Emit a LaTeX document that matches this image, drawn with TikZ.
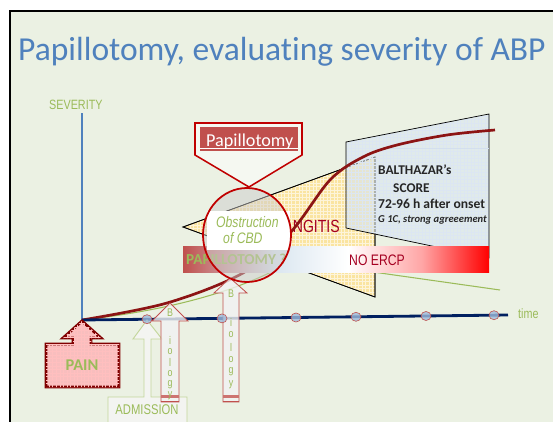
\documentclass[tikz,border=0pt]{standalone}
\usepackage{fontspec}
\setmainfont{Carlito}[Ligatures=NoCommon]
\newfontfamily\narrowfont[FakeStretch=0.8]{Liberation Sans}
\usepackage{xcolor}
\definecolor{slidebg}{RGB}{235,241,227}
\definecolor{titleblue}{RGB}{79,129,189}
\definecolor{leafgreen}{RGB}{155,187,89}
\definecolor{palegreen}{RGB}{195,214,155}
\definecolor{navy}{RGB}{0,32,96}
\definecolor{darkred}{RGB}{128,0,0}
\definecolor{curvered}{RGB}{140,20,20}
\definecolor{brickred}{RGB}{192,80,77}
\definecolor{deepred}{RGB}{192,0,0}
\definecolor{wine}{RGB}{165,0,33}
\definecolor{sand}{RGB}{250,228,160}
\definecolor{icyblue}{RGB}{218,230,240}
\definecolor{inkgray}{RGB}{38,38,38}
\definecolor{pinkfill}{RGB}{248,190,190}
\usepackage{tikz}
\usetikzlibrary{arrows.meta,positioning,calc,patterns}
\pgfdeclarehorizontalshading{bannershade}{100bp}{color(0bp)=(brickred); color(25bp)=(brickred); color(40bp)=(icyblue); color(52bp)=(white); color(64bp)=(red!35); color(75bp)=(red); color(100bp)=(red)}

\begin{document}
\begin{tikzpicture}[x=0.03cm, y=-0.03cm,
  axisdot/.style={draw=brickred, fill=titleblue!55, fill opacity=0.8, line width=0.5pt},
  bioarrow/.style={draw=brickred, line width=0.7pt, fill=gray!10, fill opacity=0.8},
  bioletter/.style={font=\narrowfont\fontsize{9.5}{9.5}\selectfont, text=leafgreen, inner sep=0pt},
  panelbold/.style={anchor=base west, inner sep=0pt, text=inkgray, font=\bfseries\fontsize{11.4}{12}\selectfont}]
  \useasboundingbox (0,0) rectangle (553,422);

  % Slide background
  \fill[white] (0,0) rectangle (553,422);
  \fill[slidebg] (10,11) rectangle (553,422);
  \draw[black, line width=2.5pt] (10,422) -- (10,11) -- (553,11);

  % Title
  \node[anchor=base west, inner sep=0pt, font=\fontsize{28.6}{30}\selectfont, text=titleblue] (title) at (18,61) {Papillotomy, evaluating severity of ABP};

  % Axes
  \coordinate (origin) at (82,320);
  \coordinate (sevtop) at (82,113);
  \coordinate (timeend) at (508,315);
  \node[anchor=base west, inner sep=0pt, font=\narrowfont\fontsize{11.5}{12}\selectfont, text=leafgreen] (sev) at (49,110) {SEVERITY};
  \draw[titleblue, line width=1.6pt] (origin) -- (sevtop);

  % Cholangitis wedge
  \coordinate (apex) at (183,227);
  \coordinate (wedgetop) at (375,157);
  \coordinate (wedgebot) at (375,297);
  \draw[black, line width=0.6pt, preaction={fill=sand}, pattern=grid, pattern color=white!60!sand] (apex) -- (wedgetop) -- (wedgebot) -- cycle;
  \draw[black, line width=0.6pt] (apex) -- (wedgetop) -- (wedgebot) -- cycle;

  % Balthazar panel
  \coordinate (ptl) at (346,142);
  \coordinate (ptr) at (489,114);
  \coordinate (pbr) at (489,258);
  \coordinate (pbl) at (346,228);
  \fill[icyblue, fill opacity=0.6] (ptl) -- (ptr) -- (pbr) -- (pbl) -- cycle;
  \fill[pattern=grid, pattern color=titleblue!20] (ptl) -- (ptr) -- (pbr) -- (pbl) -- cycle;
  \draw[black, line width=0.6pt] (ptl) -- (ptr) -- (pbr) -- (pbl) -- cycle;
  \draw[titleblue!25, line width=0.5pt] (390,148) -- (489,148);
  \node[panelbold] (balth) at (378,174) {BALTHAZAR’s};
  \node[panelbold] (score) at (393,192) {SCORE};
  \node[panelbold, font=\bfseries\fontsize{11.6}{12}\selectfont] (onset) at (378,208) {72-96 h after onset};
  \node[panelbold, font=\bfseries\itshape\fontsize{9}{10}\selectfont] (grade) at (378,222) {G 1C, strong agreeement};

  \node[anchor=base east, inner sep=0pt, font=\narrowfont\fontsize{15}{16}\selectfont, text=wine] (ngitis) at (340,232) {NGITIS};

  % Severity curves
  \draw[leafgreen, line width=0.9pt] (origin) .. controls (170,310) and (235,292) .. (285,265) .. controls (320,250) and (340,267) .. (373,272) -- (500,290);
  \draw[curvered, line width=2.3pt] plot[smooth, tension=0.55] coordinates {(origin) (167,303) (243,273) (290,233) (330,180) (363,157) (397,145) (447,135) (495,130)};

  % Decision banner
  \shade[shading=bannershade] (183,246) rectangle (489,272);
  \node[anchor=base west, inner sep=0pt, font=\bfseries\fontsize{13}{14}\selectfont, text=leafgreen] (papq) at (186,264) {PAPILLOTOMY ?};
  \node[anchor=base west, inner sep=0pt, font=\narrowfont\fontsize{13}{14}\selectfont, text=wine] (noercp) at (349,265) {NO ERCP};

  % Time axis
  \draw[navy, line width=2.4pt] (origin) -- (timeend);
  \node[anchor=base west, inner sep=0pt, font=\narrowfont\fontsize{11.5}{12}\selectfont, text=leafgreen] (timelbl) at (518,318) {time};

  % Pain arrow
  \draw[darkred, line width=2.4pt, fill=pinkfill, postaction={pattern=grid, pattern color=red!25}] (82,321) -- (101,338) -- (91,338) -- (91,344) -- (119,344) -- (119,387) -- (46,387) -- (46,344) -- (73,344) -- (73,338) -- (63,338) -- cycle;
  \node[font=\bfseries\fontsize{14}{14}\selectfont, text=leafgreen, anchor=base, inner sep=0pt] (pain) at (82,370) {PAIN};

  % Admission arrow
  \draw[palegreen, line width=0.8pt, fill=gray!8, fill opacity=0.8] (147,320) -- (162,339) -- (151,339) -- (151,397) -- (187,397) -- (187,425) -- (108,425) -- (108,397) -- (144,397) -- (144,339) -- (133,339) -- cycle;
  \node[font=\narrowfont\fontsize{12}{12}\selectfont, text=leafgreen, anchor=base, inner sep=0pt] (adm) at (147,414) {ADMISSION};

  % Biology arrows
  \draw[bioarrow] (170,303) -- (188,321) -- (179,321) -- (179,402) -- (161,402) -- (161,321) -- (152,321) -- cycle;
  \fill[brickred!80] (161,395) rectangle (179,398);
  \draw[brickred, line width=0.7pt] (161,401) -- (179,401);
  \draw[bioarrow] (230,278) -- (247,293) -- (239,293) -- (239,402) -- (223,402) -- (223,293) -- (214,293) -- cycle;
  \fill[brickred!80] (223,395) rectangle (239,398);
  \draw[brickred, line width=0.7pt] (223,401) -- (239,401);
  \node[bioletter] (bioaB) at (170,313) {B};
  \node[bioletter] (biobB) at (231,294) {B};
  \foreach \ch [count=\k] in {i,o,l,o,g,y} {
    \node[bioletter] (bioa-\k) at (170,329+11.2*\k) {\ch};
    \node[bioletter] (biob-\k) at (231,309.5+12.5*\k) {\ch};
  }

  % Time points
  \foreach \px/\py in {147/319.2, 222/318.4, 296/317.5, 356/316.8, 426/316, 494/315.2}
    \draw[axisdot] (\px,\py) ellipse [x radius=5, y radius=4.5];

  % Lens
  \coordinate (lens) at (247,235);
  \fill[gray!40, fill opacity=0.5] (lens) ellipse [x radius=44, y radius=47];
  \fill[white] (207,211) rectangle (290,250);
  \node[anchor=base west, inner sep=0pt, font=\narrowfont\itshape\fontsize{13}{14}\selectfont, text=leafgreen] (obs) at (216,227) {Obstruction};
  \node[anchor=base west, inner sep=0pt, font=\narrowfont\itshape\fontsize{13}{14}\selectfont, text=leafgreen] (cbd) at (223,243) {of CBD};
  \draw[deepred, line width=1.5pt] (lens) ellipse [x radius=44, y radius=47];

  % Callout
  \draw[deepred, line width=1.3pt, fill=slidebg!50!white] (195,123) -- (302,123) -- (302,155) -- (249,187) -- (195,155) -- cycle;
  \fill[brickred] (200,127) rectangle (298,151);
  \draw[white, line width=0.6pt] (200,148) -- (298,148);
  \node[anchor=base west, inner sep=0pt, font=\fontsize{15.5}{16}\selectfont, text=white] (callout) at (206,146) {Papillotomy};
\end{tikzpicture}
\end{document}
